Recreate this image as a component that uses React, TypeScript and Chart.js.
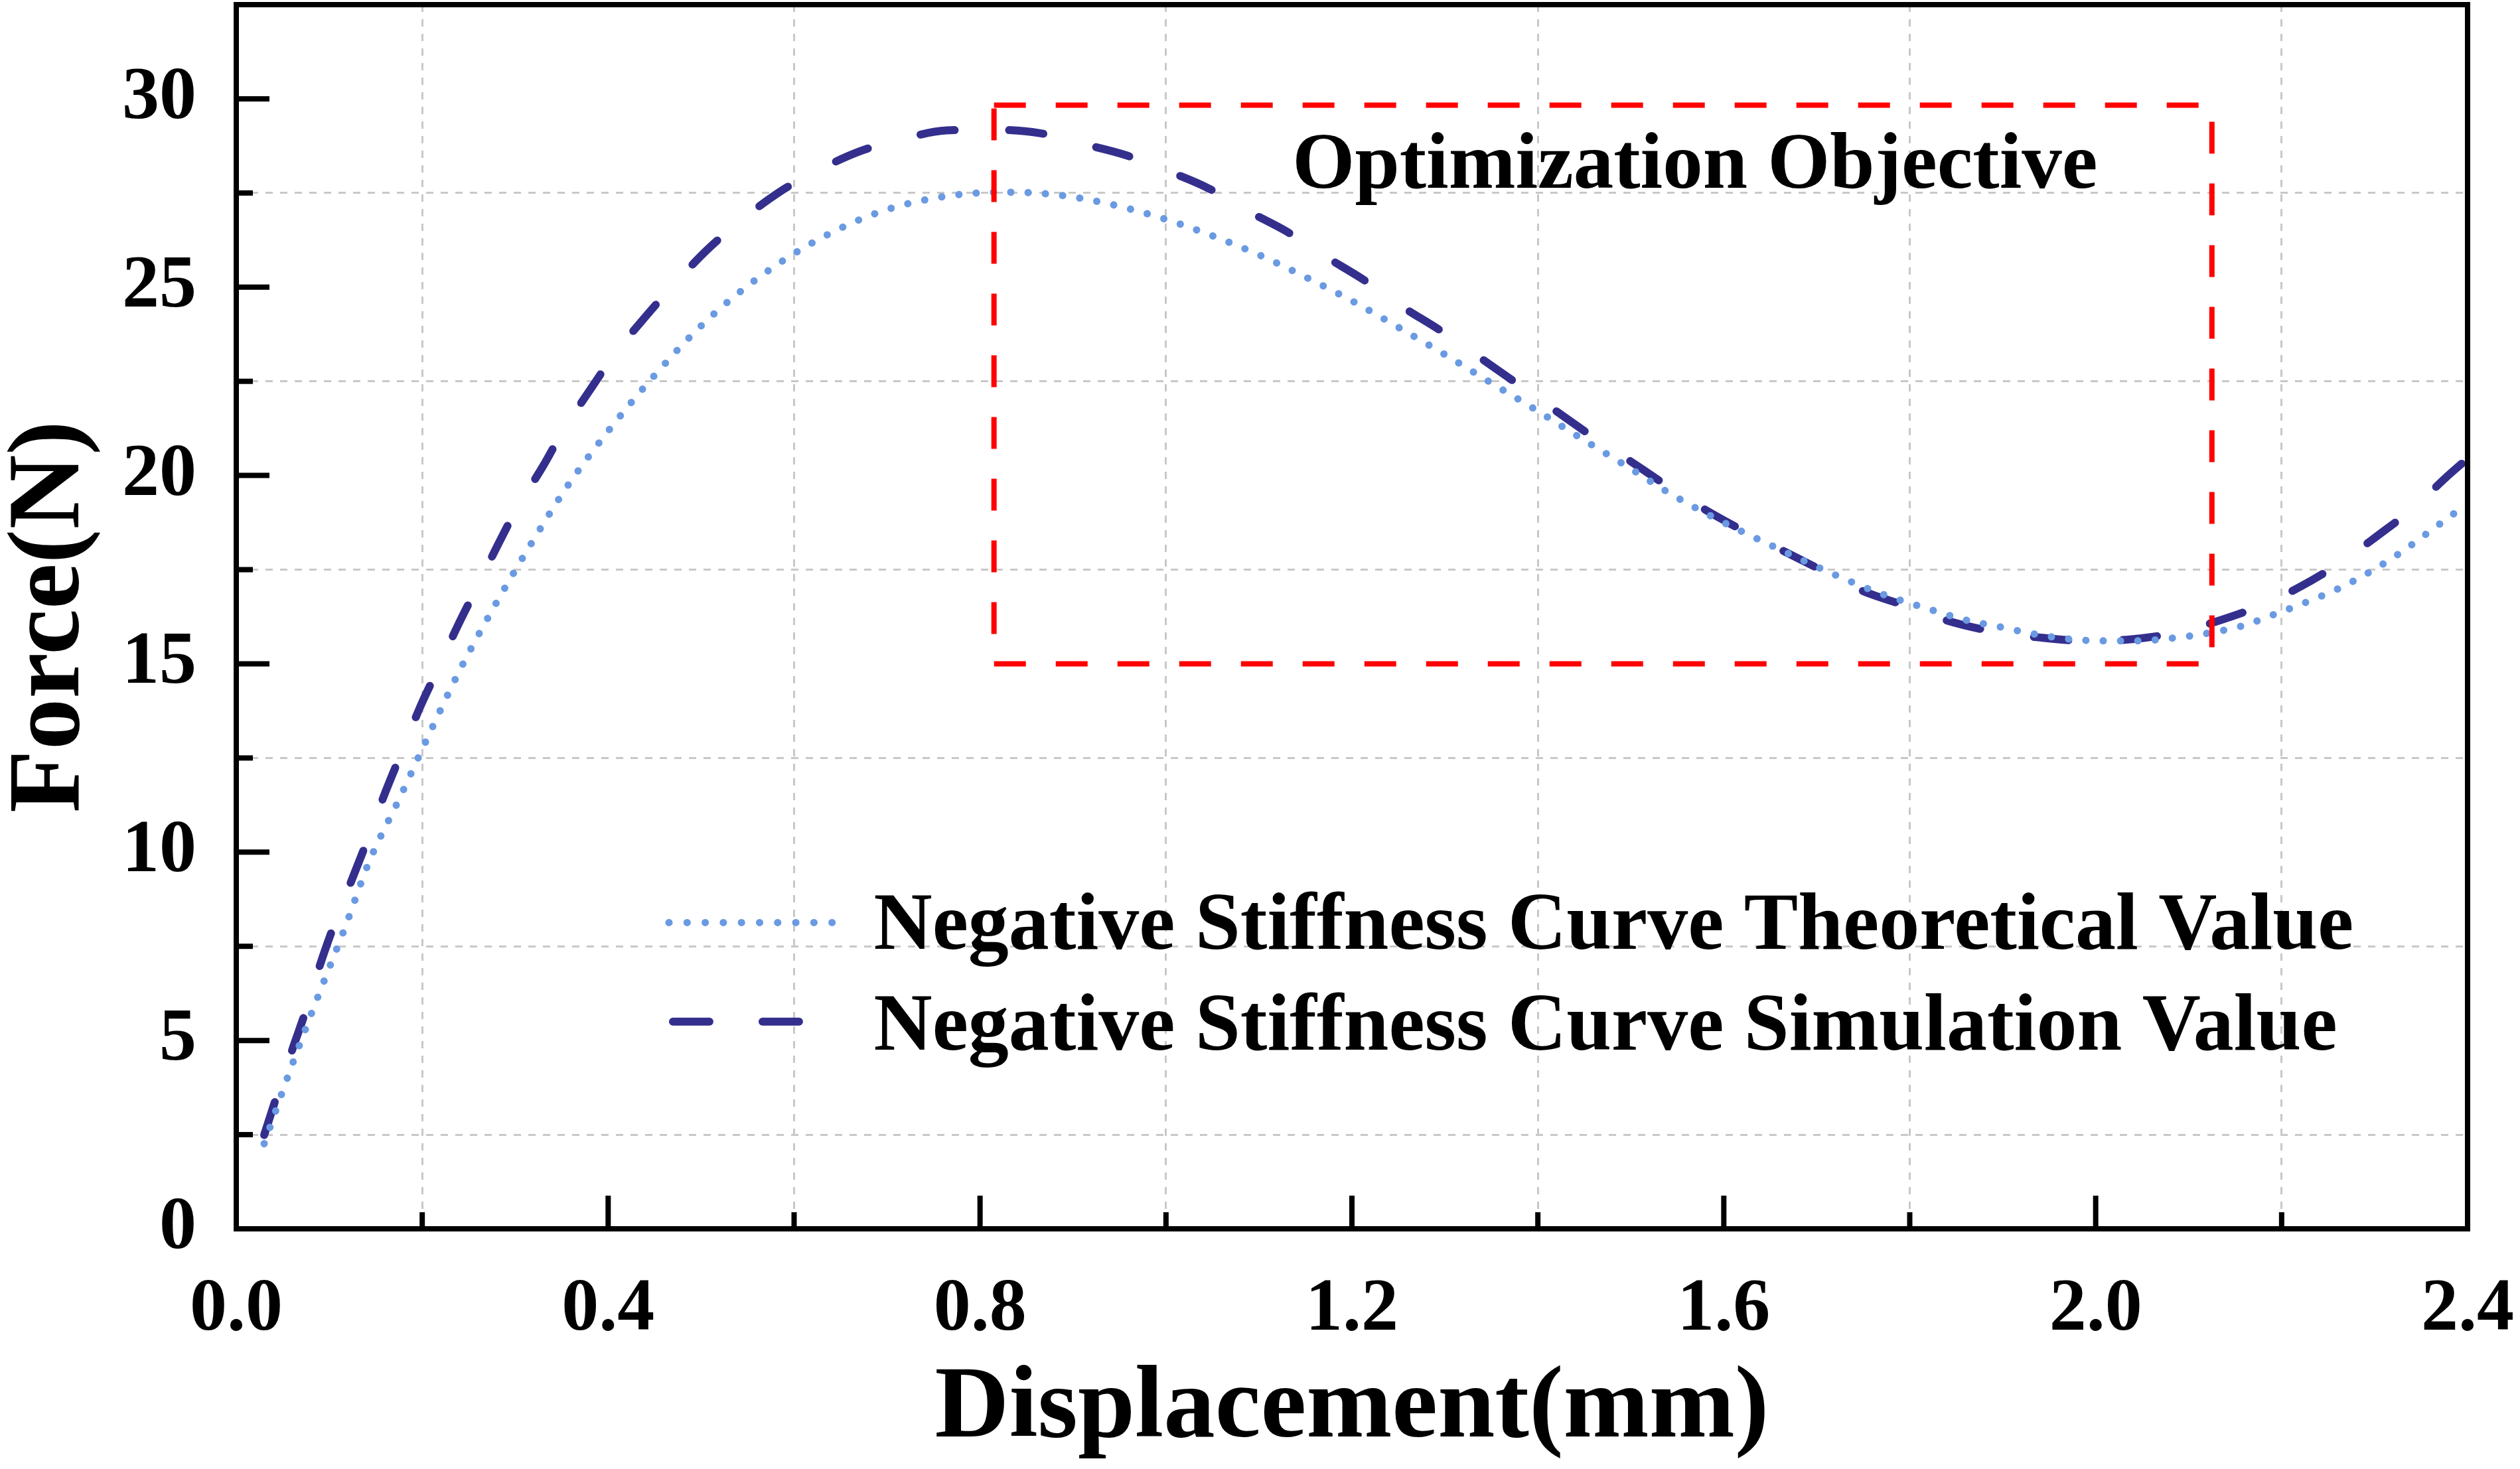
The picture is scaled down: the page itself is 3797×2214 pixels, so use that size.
import React, { useEffect, useRef } from "react";
import { Chart, registerables } from "chart.js";
import type { Plugin } from "chart.js";

Chart.register(...registerables);

const W = 3797;
const H = 2214;
const FONT = "'Liberation Serif', 'Times New Roman', serif";

// Negative Stiffness Curve Theoretical Value (dotted)
const theoryX = [
  0.03, 0.06, 0.09, 0.117, 0.143, 0.176, 0.208, 0.241, 0.277, 0.316, 0.356,
  0.401, 0.45, 0.502, 0.56, 0.625, 0.695, 0.768, 0.83, 0.883, 0.937, 0.992,
  1.046, 1.098, 1.15, 1.202, 1.251, 1.3, 1.349, 1.398, 1.447, 1.494, 1.543,
  1.592, 1.647, 1.698, 1.766, 1.821, 1.859, 1.897, 1.932, 1.97, 2.008, 2.046,
  2.082, 2.12, 2.158, 2.193, 2.229, 2.264, 2.297, 2.329, 2.359, 2.391, 2.4,
];
const theoryY = [
  2.26, 4.35, 6.3, 8.0, 9.75, 11.45, 13.16, 14.86, 16.5, 18.14, 19.71, 21.21,
  22.66, 24.02, 25.22, 26.25, 27.02, 27.43, 27.52, 27.45, 27.22, 26.86, 26.4,
  25.88, 25.27, 24.61, 23.92, 23.21, 22.47, 21.74, 20.98, 20.27, 19.51, 18.85,
  18.19, 17.6, 16.89, 16.45, 16.17, 15.98, 15.8, 15.66, 15.61, 15.61, 15.68,
  15.81, 16.01, 16.32, 16.66, 17.03, 17.47, 17.97, 18.51, 19.09, 19.25,
];

// Negative Stiffness Curve Simulation Value (dashed)
const simX = [
  0.03, 0.044, 0.061, 0.077, 0.09, 0.106, 0.125, 0.142, 0.16, 0.177, 0.197,
  0.216, 0.238, 0.258, 0.281, 0.302, 0.33, 0.352, 0.381, 0.407, 0.441, 0.47,
  0.506, 0.54, 0.582, 0.621, 0.67, 0.713, 0.764, 0.81, 0.864, 0.904, 0.956,
  0.997, 1.046, 1.085, 1.131, 1.169, 1.213, 1.251, 1.297, 1.333, 1.377, 1.415,
  1.456, 1.494, 1.537, 1.576, 1.625, 1.663, 1.712, 1.747, 1.802, 1.84, 1.894,
  1.935, 1.989, 2.033, 2.09, 2.128, 2.18, 2.221, 2.264, 2.302, 2.343, 2.376,
  2.4,
];
const simY = [
  2.49, 3.56, 4.81, 5.95, 7.0, 8.12, 9.31, 10.38, 11.57, 12.6, 13.81, 14.82,
  16.0, 16.99, 18.14, 19.13, 20.25, 21.21, 22.29, 23.22, 24.24, 25.05, 25.98,
  26.71, 27.49, 28.04, 28.6, 28.91, 29.16, 29.18, 29.09, 28.84, 28.51, 28.13,
  27.62, 27.06, 26.46, 25.85, 25.19, 24.53, 23.82, 23.21, 22.45, 21.79, 21.08,
  20.47, 19.76, 19.15, 18.48, 18.01, 17.4, 16.96, 16.49, 16.15, 15.84, 15.71,
  15.61, 15.64, 15.84, 16.11, 16.57, 17.06, 17.7, 18.38, 19.16, 19.93, 20.45,
];

const seriesLabels = [
  "Negative Stiffness Curve Theoretical Value",
  "Negative Stiffness Curve Simulation Value",
];
const xTickLabels = ["0.0", "0.4", "0.8", "1.2", "1.6", "2.0", "2.4"];
const yTickLabels = ["0", "5", "10", "15", "20", "25", "30"];

// red "Optimization Objective" box, in data units
const boxText = "Optimization Objective";
const boxX = [0.815, 2.125];
const boxY = [15.0, 29.83];
const boxTextAt = [1.136, 27.64];

// legend placement, in data units
const legendSampleX = [0.4654, 0.6595];
const legendTextX = 0.6857;
const legendRowY = [8.13, 5.5];
const legendBaseY = [7.44, 4.76];

const DOT_COLOR = "#6a9ae2";
const DASH_COLOR = "#342f8d";
const GRID_COLOR = "#c8c8c8";

const xMajor = (v: number) => Math.abs(v / 0.4 - Math.round(v / 0.4)) < 1e-6;
const yMajor = (v: number) => Math.abs(v / 5 - Math.round(v / 5)) < 1e-6;

const frameAndTicks: Plugin<"line"> = {
  id: "frameAndTicks",
  afterDatasetsDraw(chart) {
    const { ctx, chartArea: a } = chart;
    const xs = chart.scales.x;
    const ys = chart.scales.y;
    ctx.save();
    ctx.strokeStyle = "#000";
    ctx.lineWidth = 8;
    ctx.setLineDash([]);
    ctx.lineCap = "butt";
    xs.ticks.forEach((t) => {
      const px = xs.getPixelForValue(t.value);
      const len = xMajor(t.value) ? 50 : 25;
      ctx.beginPath();
      ctx.moveTo(px, a.bottom);
      ctx.lineTo(px, a.bottom - len);
      ctx.stroke();
    });
    ys.ticks.forEach((t) => {
      const py = ys.getPixelForValue(t.value);
      const len = yMajor(t.value) ? 50 : 25;
      ctx.beginPath();
      ctx.moveTo(a.left, py);
      ctx.lineTo(a.left + len, py);
      ctx.stroke();
    });
    ctx.lineJoin = "miter";
    ctx.strokeRect(a.left, a.top, a.right - a.left, a.bottom - a.top);
    ctx.restore();
  },
};

const annotations: Plugin<"line"> = {
  id: "annotations",
  afterDraw(chart) {
    const { ctx } = chart;
    const xs = chart.scales.x;
    const ys = chart.scales.y;
    ctx.save();
    // red target box
    const l = xs.getPixelForValue(boxX[0]);
    const r = xs.getPixelForValue(boxX[1]);
    const t = ys.getPixelForValue(boxY[1]);
    const b = ys.getPixelForValue(boxY[0]);
    ctx.strokeStyle = "#ff0000";
    ctx.lineWidth = 8;
    ctx.lineCap = "butt";
    ctx.setLineDash([48, 45]);
    ctx.strokeRect(l, t, r - l, b - t);

    ctx.setLineDash([]);
    ctx.fillStyle = "#000";
    ctx.textBaseline = "alphabetic";
    ctx.textAlign = "left";
    ctx.font = `bold 121px ${FONT}`;
    ctx.fillText(
      boxText,
      xs.getPixelForValue(boxTextAt[0]),
      ys.getPixelForValue(boxTextAt[1])
    );

    // legend
    const x0 = xs.getPixelForValue(legendSampleX[0]);
    const x1 = xs.getPixelForValue(legendSampleX[1]);
    const tx = xs.getPixelForValue(legendTextX);
    ctx.lineCap = "round";
    // dotted sample
    let py = ys.getPixelForValue(legendRowY[0]);
    ctx.strokeStyle = DOT_COLOR;
    ctx.lineWidth = 11;
    ctx.setLineDash([0.1, 27.2]);
    ctx.beginPath();
    ctx.moveTo(x0, py);
    ctx.lineTo(x1, py);
    ctx.stroke();
    // dashed sample
    py = ys.getPixelForValue(legendRowY[1]);
    ctx.strokeStyle = DASH_COLOR;
    ctx.lineWidth = 12;
    ctx.setLineDash([55, 80]);
    ctx.beginPath();
    ctx.moveTo(x0 + 6, py);
    ctx.lineTo(x0 + 200, py);
    ctx.stroke();

    ctx.setLineDash([]);
    ctx.font = `bold 122px ${FONT}`;
    seriesLabels.forEach((s, i) => {
      ctx.fillText(s, tx, ys.getPixelForValue(legendBaseY[i]));
    });
    ctx.restore();
  },
};

export default function App(): JSX.Element {
  const ref = useRef<HTMLCanvasElement>(null);

  useEffect(() => {
    if (!ref.current) return;
    const chart = new Chart(ref.current, {
      type: "line",
      data: {
        datasets: [
          {
            label: seriesLabels[0],
            data: theoryX.map((x, i) => ({ x, y: theoryY[i] })),
            borderColor: DOT_COLOR,
            borderWidth: 11,
            borderDash: [0.1, 26],
            borderCapStyle: "round",
            pointRadius: 0,
            cubicInterpolationMode: "monotone",
            fill: false,
          },
          {
            label: seriesLabels[1],
            data: simX.map((x, i) => ({ x, y: simY[i] })),
            borderColor: DASH_COLOR,
            borderWidth: 12,
            borderDash: [52, 82],
            borderCapStyle: "round",
            pointRadius: 0,
            cubicInterpolationMode: "monotone",
            fill: false,
          },
        ],
      },
      options: {
        animation: false,
        responsive: false,
        devicePixelRatio: 1,
        layout: { padding: { top: 7, right: 79, left: 0, bottom: 0 } },
        plugins: {
          legend: { display: false },
          tooltip: { enabled: false },
        },
        scales: {
          x: {
            type: "linear",
            min: 0,
            max: 2.4,
            afterFit: (s: any) => {
              s.height = 362;
              s.paddingLeft = 0;
              s.paddingRight = 0;
              s.paddingTop = 0;
              s.paddingBottom = 0;
            },
            border: { display: false, dash: [11, 11] },
            grid: {
              drawTicks: false,
              lineWidth: 3,
              color: (c: any) =>
                xMajor(c.tick.value) ? "rgba(0,0,0,0)" : GRID_COLOR,
            },
            ticks: {
              stepSize: 0.2,
              autoSkip: false,
              maxRotation: 0,
              padding: 56,
              color: "#000",
              font: { family: FONT, size: 112, weight: "bold" },
              callback: (v: any) =>
                xMajor(Number(v)) ? xTickLabels[Math.round(Number(v) / 0.4)] : "",
            },
            title: {
              display: true,
              text: "Displacement(mm)",
              color: "#000",
              font: { family: FONT, size: 155, weight: "bold", lineHeight: 1 },
              padding: { top: 0, bottom: 12 },
            },
          },
          y: {
            type: "linear",
            min: 0,
            max: 32.5,
            afterFit: (s: any) => {
              s.width = 356;
              s.paddingLeft = 0;
              s.paddingRight = 0;
              s.paddingTop = 0;
              s.paddingBottom = 0;
            },
            border: { display: false, dash: [11, 11] },
            grid: {
              drawTicks: false,
              lineWidth: 3,
              color: (c: any) =>
                yMajor(c.tick.value) || c.tick.value >= 32.5
                  ? "rgba(0,0,0,0)"
                  : GRID_COLOR,
            },
            ticks: {
              stepSize: 2.5,
              autoSkip: false,
              padding: 60,
              color: "#000",
              font: { family: FONT, size: 112, weight: "bold" },
              callback: (v: any) =>
                yMajor(Number(v)) ? yTickLabels[Math.round(Number(v) / 5)] : "",
            },
            title: {
              display: true,
              text: "Force(N)",
              color: "#000",
              font: { family: FONT, size: 155, weight: "bold", lineHeight: 1 },
              padding: { top: 0, bottom: 0 },
            },
          },
        },
      },
      plugins: [frameAndTicks, annotations],
    } as any);
    return () => {
      chart.destroy();
    };
  }, []);

  return (
    <div
      style={{
        position: "fixed",
        left: 0,
        top: 0,
        width: W,
        height: H,
        background: "#fff",
      }}
    >
      <canvas ref={ref} width={W} height={H} style={{ width: W, height: H }} />
    </div>
  );
}
